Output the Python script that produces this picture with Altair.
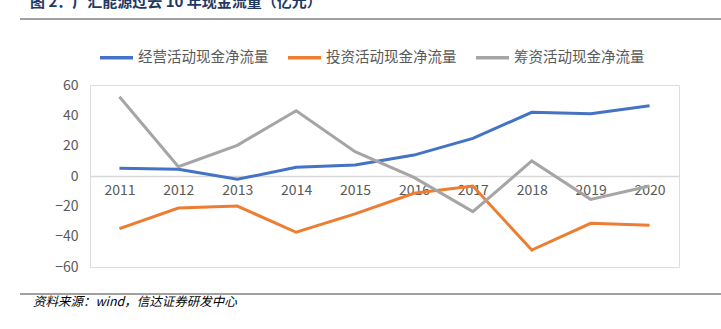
import altair as alt
import pandas as pd

years = ["2011", "2012", "2013", "2014", "2015", "2016", "2017", "2018", "2019", "2020"]
operating = [5.1, 4.4, -2.2, 5.7, 7.2, 13.8, 24.8, 42.0, 41.0, 46.3]
investing = [-34.7, -21.1, -19.8, -37.1, -25.0, -11.4, -6.6, -48.8, -31.2, -32.5]
financing = [52.3, 6.1, 20.2, 43.0, 16.0, -0.9, -23.5, 9.9, -15.4, -6.6]
series_names = ["经营活动现金净流量", "投资活动现金净流量", "筹资活动现金净流量"]
series_colors = ["#4472C4", "#ED7D31", "#A5A5A5"]
y_ticks = [-60, -40, -20, 0, 20, 40, 60]

rows = []
for name, vals in zip(series_names, [operating, investing, financing]):
    for yr, v in zip(years, vals):
        rows.append({"year": yr, "series": name, "value": v})
df = pd.DataFrame(rows)

FONT = "Noto Sans CJK SC"

lines = alt.Chart(df).mark_line(strokeWidth=3, clip=False).encode(
    x=alt.X("year:N", sort=years,
            scale=alt.Scale(type="point", padding=0.5),
            axis=alt.Axis(title=None, labelAngle=0, offset=-91, domainColor="#D9D9D9",
                          domainWidth=1.5, ticks=False, labelPadding=7,
                          labelFontSize=14, labelColor="#595959", labelFont=FONT,
                          grid=False)),
    y=alt.Y("value:Q", scale=alt.Scale(domain=[-60, 60], nice=False),
            axis=alt.Axis(title=None, values=y_ticks, domain=False, ticks=False, grid=False,
                          labelPadding=12, labelFontSize=14, labelColor="#595959",
                          labelFont=FONT)),
    color=alt.Color("series:N", sort=series_names,
                    scale=alt.Scale(domain=series_names, range=series_colors),
                    legend=alt.Legend(title=None, orient="none", legendX=8, legendY=-46,
                                      direction="horizontal", columns=3,
                                      symbolType="stroke", symbolStrokeWidth=3.5,
                                      symbolSize=1089, labelFontSize=14.5,
                                      labelColor="#595959", labelFont=FONT,
                                      columnPadding=12, labelOffset=3)),
    order=alt.Order("year:N"),
)

title = alt.Chart(pd.DataFrame({"t": ["图 2：广汇能源过去 10 年现金流量（亿元）"]})).mark_text(
    align="left", baseline="alphabetic", fontSize=15, fontWeight="bold",
    font=FONT, color="#1F3864"
).encode(text="t:N", x=alt.value(-60), y=alt.value(-78))

top_rule = alt.Chart(pd.DataFrame({"a": [0]})).mark_rule(color="#808080", strokeWidth=1.5).encode(
    x=alt.value(-70), x2=alt.value(631), y=alt.value(-66))

bottom_rule = alt.Chart(pd.DataFrame({"a": [0]})).mark_rule(color="#808080", strokeWidth=1.5).encode(
    x=alt.value(-70), x2=alt.value(631), y=alt.value(209))

source = alt.Chart(pd.DataFrame({"t": ["资料来源：wind，信达证券研发中心"]})).mark_text(
    align="left", baseline="middle", fontSize=12.5, fontStyle="italic",
    font=FONT, color="#000000"
).encode(text="t:N", x=alt.value(-57), y=alt.value(217))

chart = alt.layer(lines, title, top_rule, bottom_rule, source).properties(
    width=589, height=182,
    autosize=alt.AutoSizeParams(type="none"),
    padding={"left": 90, "top": 85, "right": 42, "bottom": 62},
).configure_view(stroke="#333333", strokeWidth=1.2).configure(background="white")

chart.save("out.html", embed_options={"renderer": "svg", "actions": False})
